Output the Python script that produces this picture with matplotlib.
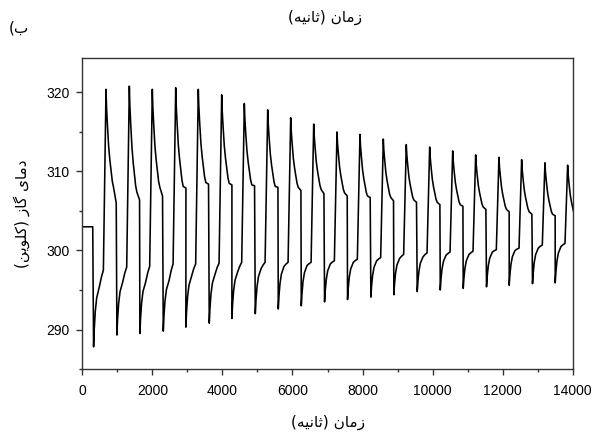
import matplotlib.pyplot as plt
from matplotlib.ticker import MultipleLocator

# temperature record: one flat start then 21 heating/cooling cycles
start_temp = 303.0
start_until = 297

peak_time = [676, 1342, 1998, 2666, 3311, 3979, 4625, 5293, 5949, 6606, 7271,
             7927, 8593, 9249, 9917, 10574, 11230, 11895, 12543, 13208, 13856]
peak_temp = [320.4, 320.8, 320.4, 320.6, 320.4, 319.7, 318.6, 317.8, 316.8, 316.0, 315.0,
             314.7, 314.1, 313.4, 313.1, 312.6, 312.1, 311.8, 311.5, 311.1, 310.8]
min_temp = [287.8, 289.3, 289.5, 289.8, 290.3, 290.8, 291.4, 292.0, 292.6, 293.0, 293.5,
            293.8, 294.1, 294.4, 294.8, 295.0, 295.2, 295.4, 295.6, 295.8, 295.9]
knee_temp = [295.4, 296.0, 296.0, 296.2, 296.8, 297.0, 297.3, 297.7, 298.0, 298.1, 298.3,
             298.5, 298.7, 299.0, 299.2, 299.4, 299.5, 299.8, 300.0, 300.3, 300.5]
pre_temp = [297.5, 297.9, 298.0, 298.3, 298.3, 298.4, 298.5, 298.5, 298.5, 298.5, 298.7,
            298.9, 299.1, 299.5, 299.7, 299.8, 299.9, 300.1, 300.3, 300.7, 300.9]
bend_temp = [308.0, 307.4, 308.0, 308.1, 308.6, 308.5, 308.3, 308.1, 308.0, 307.7, 307.3,
             306.9, 306.7, 306.4, 306.1, 305.8, 305.5, 305.2, 304.9, 304.6, 304.3]
end_temp = [306.0, 306.4, 306.9, 307.9, 308.4, 308.3, 308.2, 308.0, 307.6, 307.2, 306.9,
            306.7, 306.3, 306.1, 305.8, 305.6, 305.2, 304.9, 304.6, 304.4, 304.1]

# shape of one cycle, times in s relative to its peak
rise_dt = [-355, -335, -305, -265, -190]
rise_frac = [0.0, 0.3, 0.6, 0.82, 1.0]
climb_dt = [-130, -75]
climb_frac = [0.6, 1.0]
decay_dt = [0, 15, 40, 75, 110, 145, 180, 215]
decay_frac = [0.0, 0.18, 0.36, 0.58, 0.72, 0.83, 0.94, 1.0]
end_dt = 292

t = [0, start_until]
temp = [start_temp, start_temp]
for i, p in enumerate(peak_time):
    for dt, f in zip(rise_dt, rise_frac):
        t.append(p + dt)
        temp.append(min_temp[i] + f * (knee_temp[i] - min_temp[i]))
    for dt, f in zip(climb_dt, climb_frac):
        t.append(p + dt)
        temp.append(knee_temp[i] + f * (pre_temp[i] - knee_temp[i]))
    for dt, f in zip(decay_dt, decay_frac):
        t.append(p + dt)
        temp.append(peak_temp[i] - f * (peak_temp[i] - bend_temp[i]))
    t.append(p + end_dt)
    temp.append(end_temp[i])

# hand-shaped Persian labels (presentation forms, visual order)
time_label = "(ﻪﯿﻧﺎﺛ) ﻥﺎﻣﺯ"
temp_label = "(ﻦﯾﻮﻠﮐ) ﺯﺎﮔ ﯼﺎﻣﺩ"
panel_label = "(ﺏ"

plt.rcParams['font.family'] = ['Liberation Sans', 'DejaVu Sans']

fig = plt.figure(figsize=(5.94, 4.32), dpi=100)
ax = fig.add_axes([0.1386, 0.1458, 0.8255, 0.7188])

ax.plot(t, temp, color='black', lw=1.15)

ax.set_xlim(0, 14000)
ax.set_ylim(285.0, 324.3)
ax.xaxis.set_major_locator(MultipleLocator(2000))
ax.xaxis.set_minor_locator(MultipleLocator(1000))
ax.yaxis.set_major_locator(MultipleLocator(10))
ax.yaxis.set_minor_locator(MultipleLocator(5))

for s in ax.spines.values():
    s.set_color('#333333')
    s.set_linewidth(1.0)
ax.tick_params(which='major', direction='out', length=4, width=1.0,
               color='#333333', labelsize=10, pad=5)
ax.tick_params(axis='x', which='major', pad=7)
ax.tick_params(which='minor', direction='out', length=2.5, width=1.0, color='#333333')
ax.tick_params(top=False, right=False, which='both')

ax.set_xlabel(time_label, fontsize=11, family=['DejaVu Sans'], labelpad=12)
ax.set_ylabel(temp_label, fontsize=11, family=['DejaVu Sans'], labelpad=12)
fig.text(0.547, 0.96, time_label, fontsize=11, family=['DejaVu Sans'],
         ha='center', va='center')
fig.text(0.032, 0.935, panel_label, fontsize=11, family=['DejaVu Sans'],
         ha='center', va='center')

fig.savefig('out.png', dpi=100)
